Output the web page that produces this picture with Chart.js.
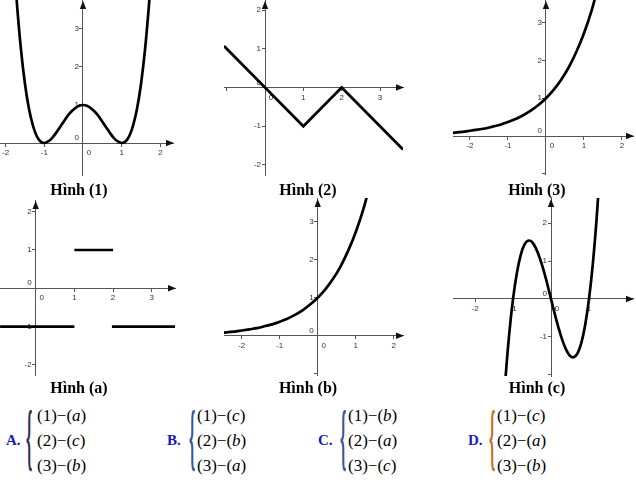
<!DOCTYPE html>
<html><head><meta charset="utf-8">
<script src="https://cdn.jsdelivr.net/npm/chart.js@4.4.1/dist/chart.umd.min.js"></script>
<style>
html,body{margin:0;padding:0;background:#fff;}
#wrap{position:relative;width:636px;height:480px;overflow:hidden;background:#fff;}
#wrap canvas{position:absolute;}
.ttl{position:absolute;width:120px;text-align:center;font:bold 16px "Liberation Serif",serif;line-height:16px;color:#000;white-space:nowrap;z-index:2;}
.lbl{position:absolute;font:bold 15px "Liberation Serif",serif;color:#1c1cb4;line-height:15px;white-space:nowrap;}
.brace{position:absolute;font:bold 16px "Liberation Serif",serif;line-height:16px;transform:scaleY(4.6);transform-origin:50% 50%;}
.ln{position:absolute;font:17px "Liberation Serif",serif;line-height:17px;color:#000;white-space:nowrap;}
</style></head>
<body><div id="wrap"></div>
<script>
// ---------- data ----------
const fig1X = [-1.75,-1.7,-1.6,-1.5,-1.4,-1.3,-1.2,-1.1,-1,-0.9,-0.8,-0.7,-0.6,-0.5,-0.4,-0.3,-0.2,-0.1,0,0.1,0.2,0.3,0.4,0.5,0.6,0.7,0.8,0.9,1,1.1,1.2,1.3,1.4,1.5,1.6,1.7,1.75];
const fig1Y = [4.25,3.57,2.43,1.56,0.92,0.48,0.19,0.04,0,0.04,0.13,0.26,0.41,0.56,0.71,0.83,0.92,0.98,1,0.98,0.92,0.83,0.71,0.56,0.41,0.26,0.13,0.04,0,0.04,0.19,0.48,0.92,1.56,2.43,3.57,4.25];

const fig2X = [-1.07,0,1,2,3.6];
const fig2Y = [1.07,0,-1,0,-1.6];

const fig3X = [-2.5,-2.2,-2,-1.8,-1.6,-1.4,-1.2,-1,-0.8,-0.6,-0.4,-0.2,0,0.2,0.4,0.6,0.8,1,1.2,1.4];
const fig3Y = [0.08,0.11,0.14,0.17,0.2,0.25,0.3,0.37,0.45,0.55,0.67,0.82,1,1.22,1.49,1.82,2.23,2.72,3.32,4.06];

const figASeg1X = [-0.92,1],   figASeg1Y = [-1,-1];
const figASeg2X = [1,2],       figASeg2Y = [1,1];
const figASeg3X = [1.97,3.6],  figASeg3Y = [-1,-1];

const figBX = [-2.5,-2.2,-2,-1.8,-1.6,-1.4,-1.2,-1,-0.8,-0.6,-0.4,-0.2,0,0.2,0.4,0.6,0.8,1,1.2,1.4];
const figBY = [0.08,0.11,0.14,0.17,0.2,0.25,0.3,0.37,0.45,0.55,0.67,0.82,1,1.22,1.49,1.82,2.23,2.72,3.32,4.06];

const figCX = [-1.25,-1.2,-1.1,-1,-0.9,-0.8,-0.7,-0.58,-0.5,-0.4,-0.3,-0.2,-0.1,0,0.1,0.2,0.3,0.4,0.5,0.58,0.7,0.8,0.9,1,1.1,1.2,1.3];
const figCY = [-2.81,-2.11,-0.92,0,0.68,1.15,1.43,1.54,1.5,1.34,1.09,0.77,0.4,0,-0.4,-0.77,-1.09,-1.34,-1.5,-1.54,-1.43,-1.15,-0.68,0,0.92,2.11,3.59];

// tick labels shown on each panel (0 is drawn separately, offset like the original)
const fig1XTicks = [-2,-1,1,2],  fig1YTicks = [1,2,3];
const fig2XTicks = [1,2,3],      fig2YTicks = [-2,-1,1,2];
const fig3XTicks = [-2,-1,1,2],  fig3YTicks = [1,2,3];
const figAXTicks = [1,2,3],      figAYTicks = [-2,-1,1,2];
const figBXTicks = [-2,-1,1,2],  figBYTicks = [1,2,3];
const figCXTicks = [-2,-1,1],    figCYTicks = [-1,1,2];

const titles = ['Hình (1)','Hình (2)','Hình (3)','Hình (a)','Hình (b)','Hình (c)'];
const answerLetters = ['A.','B.','C.','D.'];
const answerFigs = ['1','2','3'];
const answerMatches = [['a','c','b'],['c','b','a'],['b','a','c'],['c','a','b']];

// ---------- layout ----------
const wrap = document.getElementById('wrap');
const PAD = 12;
const PANELS = [
  {area:[0,0,173,175],   x:[-2.145,2.326], y:[-0.842,3.763], xLab:fig1XTicks, yLab:fig1YTicks, series:[[fig1X,fig1Y]], smooth:true},
  {area:[224,0,403,175], x:[-1.07,3.60],   y:[-2.26,2.26],   xLab:fig2XTicks, yLab:fig2YTicks, series:[[fig2X,fig2Y]], smooth:false},
  {area:[453,0,633,174], x:[-2.447,2.29],  y:[-1.005,3.6],   xLab:fig3XTicks, yLab:fig3YTicks, series:[[fig3X,fig3Y]], smooth:true},
  {area:[0,200,175,375], x:[-0.922,3.6],   y:[-2.264,2.305], xLab:figAXTicks, yLab:figAYTicks, series:[[figASeg1X,figASeg1Y],[figASeg2X,figASeg2Y],[figASeg3X,figASeg3Y]], smooth:false},
  {area:[224,198,403,375], x:[-2.466,2.245], y:[-1.03,3.62], xLab:figBXTicks, yLab:figBYTicks, series:[[figBX,figBY]], smooth:true},
  {area:[453,198,633,376], x:[-2.58,2.158],  y:[-2.03,2.66], xLab:figCXTicks, yLab:figCYTicks, series:[[figCX,figCY]], smooth:true}
];
const TITLE_POS = [[79,181.5],[308,181.5],[537,181.5],[79,379.5],[308,379.5],[537,379.5]];

const FONT = {family:'"Liberation Sans", Arial, sans-serif', size:8};
const YGAP = '\u2002'; // keeps y labels clear of the axis line

const arrowPlugin = {
  id:'arrows',
  afterDatasetsDraw(chart){
    const {ctx, chartArea:a, scales} = chart;
    const ox = scales.x.getPixelForValue(0), oy = scales.y.getPixelForValue(0);
    ctx.save();
    ctx.fillStyle = '#111';
    ctx.beginPath(); ctx.moveTo(a.right+1, oy); ctx.lineTo(a.right-7, oy-3.2); ctx.lineTo(a.right-7, oy+3.2); ctx.closePath(); ctx.fill();
    ctx.beginPath(); ctx.moveTo(ox, a.top+1); ctx.lineTo(ox-3.2, a.top+9); ctx.lineTo(ox+3.2, a.top+9); ctx.closePath(); ctx.fill();
    ctx.restore();
  }
};

function axisOpts(axis, range, labs){
  return {
    type:'linear', axis, min:range[0], max:range[1],
    position: axis==='x' ? {y:0} : {x:0},
    grid:{display:true, drawOnChartArea:false, drawTicks:true, tickLength:3, color:'#555', lineWidth:1},
    border:{display:true, color:'#555', width:1},
    ticks:{stepSize:1, includeBounds:false, autoSkip:false, maxRotation:0, minRotation:0, padding:2,
      color:'#333', font:FONT,
      callback:v => labs.includes(v) ? (axis==='y' ? String(v)+YGAP : String(v)) : ''}
  };
}
function zeroOpts(axis, range){
  return {
    type:'linear', axis, min:range[0], max:range[1],
    position: axis==='x' ? {y:0} : {x:0},
    afterBuildTicks: s => { s.ticks = [{value:0}]; },
    grid:{display:false, drawTicks:true, tickLength:3},
    border:{display:false},
    ticks:{stepSize:1, includeBounds:false, autoSkip:false, maxRotation:0, minRotation:0, padding:2,
      labelOffset: axis==='x' ? 6 : -5, color:'#333', font:FONT,
      callback:() => axis==='y' ? '0'+YGAP : '0'}
  };
}

PANELS.forEach(p => {
  const w = p.area[2]-p.area[0], h = p.area[3]-p.area[1];
  const c = document.createElement('canvas');
  c.width = w+2*PAD; c.height = h+2*PAD;
  c.style.left = (p.area[0]-PAD)+'px'; c.style.top = (p.area[1]-PAD)+'px';
  c.style.width = c.width+'px'; c.style.height = c.height+'px';
  wrap.appendChild(c);
  const datasets = p.series.map(s => ({
    data: s[0].map((x,i) => ({x, y:s[1][i]})),
    showLine:true, pointRadius:0, borderColor:'#000', borderWidth:2.7, fill:false,
    cubicInterpolationMode: p.smooth ? 'monotone' : 'default', tension:0,
    xAxisID:'x', yAxisID:'y'
  }));
  new Chart(c, {
    type:'scatter',
    data:{datasets},
    options:{
      responsive:false, animation:false, devicePixelRatio:1, events:[],
      layout:{padding:PAD},
      plugins:{legend:{display:false}, tooltip:{enabled:false}, title:{display:false}},
      scales:{ x:axisOpts('x',p.x,p.xLab), y:axisOpts('y',p.y,p.yLab), x0:zeroOpts('x',p.x), y0:zeroOpts('y',p.y) }
    },
    plugins:[arrowPlugin]
  });
});

titles.forEach((t,i) => {
  const d = document.createElement('div');
  d.className = 'ttl'; d.textContent = t;
  d.style.left = (TITLE_POS[i][0]-60)+'px'; d.style.top = TITLE_POS[i][1]+'px';
  wrap.appendChild(d);
});

const ANS_POS = [{lbl:6,brace:26,text:37},{lbl:167,brace:189,text:197},{lbl:318,brace:340,text:348},{lbl:468,brace:489,text:497}];
const BRACE_COL = ['#2e2e50','#34549a','#34549a','#c46f20'];
const LINE_Y = [415,440,465];
answerLetters.forEach((L,i) => {
  const pos = ANS_POS[i];
  const l = document.createElement('div');
  l.className='lbl'; l.textContent=L; l.style.left=pos.lbl+'px'; l.style.top='432.5px';
  wrap.appendChild(l);
  const b = document.createElement('div');
  b.className='brace'; b.textContent='{'; b.style.left=pos.brace+'px'; b.style.top='431px'; b.style.color=BRACE_COL[i];
  wrap.appendChild(b);
  answerFigs.forEach((f,j) => {
    const d = document.createElement('div');
    d.className='ln';
    d.innerHTML = '(' + f + ')\u2212(<i>' + answerMatches[i][j] + '</i>)';
    d.style.left = pos.text+'px'; d.style.top = (LINE_Y[j]-8.5)+'px';
    wrap.appendChild(d);
  });
});
</script>
</body></html>
